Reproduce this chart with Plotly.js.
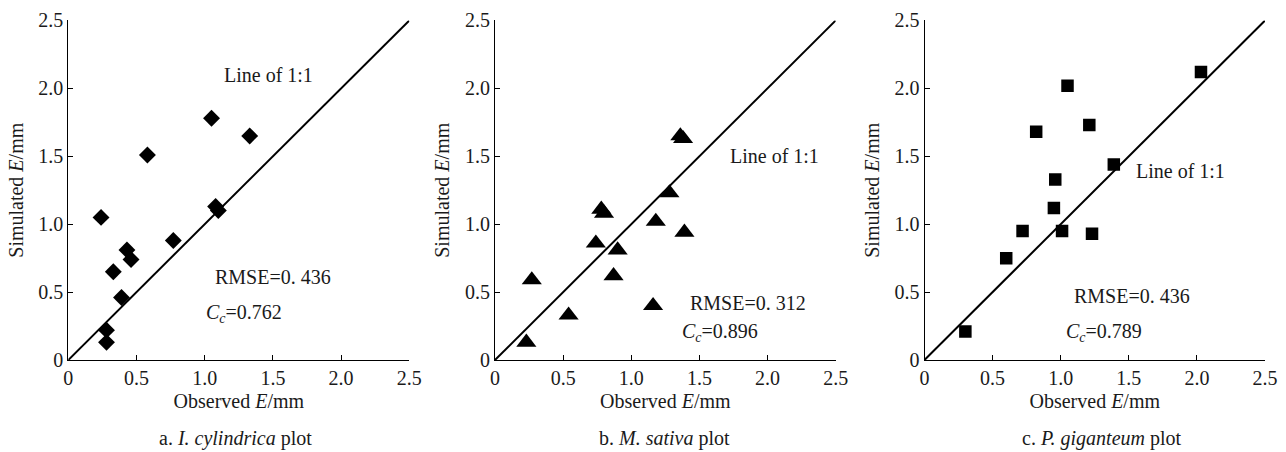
<!DOCTYPE html>
<html>
<head>
<meta charset="utf-8">
<script src="https://cdn.plot.ly/plotly-3.0.1.min.js"></script>
<style>html,body{margin:0;padding:0;background:#fff;}#chart{width:1286px;height:452px;}</style>
</head>
<body>
<div id="chart"></div>
<script>
// Panel a: I. cylindrica
var obsA = [0.24, 0.58, 1.05, 1.33, 1.08, 1.10, 0.77, 0.43, 0.46, 0.33, 0.39, 0.28, 0.28];
var simA = [1.05, 1.51, 1.78, 1.65, 1.13, 1.10, 0.88, 0.81, 0.74, 0.65, 0.46, 0.22, 0.13];
// Panel b: M. sativa
var obsB = [1.36, 1.38, 1.28, 0.78, 0.80, 1.18, 1.39, 0.74, 0.90, 0.87, 0.27, 0.54, 1.16, 0.23];
var simB = [1.65, 1.63, 1.23, 1.11, 1.08, 1.02, 0.94, 0.86, 0.81, 0.62, 0.59, 0.33, 0.40, 0.13];
// Panel c: P. giganteum
var obsC = [2.03, 1.05, 0.82, 1.21, 1.39, 0.96, 0.95, 0.72, 1.01, 1.23, 0.60, 0.30];
var simC = [2.12, 2.02, 1.68, 1.73, 1.44, 1.33, 1.12, 0.95, 0.95, 0.93, 0.75, 0.21];
// 1:1 line endpoints
var lineX = [0, 2.5];
var lineY = [0, 2.5];
// tick labels
var tickVals = [0, 0.5, 1.0, 1.5, 2.0, 2.5];
var tickText = ["0", "0.5", "1.0", "1.5", "2.0", "2.5"];
// statistics
var rmseText = ["RMSE=0. 436", "RMSE=0. 312", "RMSE=0. 436"];
var ccText = ["0.762", "0.896", "0.789"];
var captions = ["a. <i>I. cylindrica</i> plot", "b. <i>M. sativa</i> plot", "c. <i>P. giganteum</i> plot"];

var FONT = "Liberation Serif, Times New Roman, serif";
var TXT = "#1a1a1a";

function mk(obs, sim, sym, size, xa, ya) {
  return [
    {x: lineX, y: lineY, mode: "lines", line: {color: "#000", width: 2}, xaxis: xa, yaxis: ya, hoverinfo: "skip"},
    {x: obs, y: sim, mode: "markers", marker: {symbol: sym, size: size, color: "#000"}, xaxis: xa, yaxis: ya}
  ];
}

var data = [].concat(
  mk(obsA, simA, "diamond", 13, "x", "y"),
  mk(obsB, simB, "triangle-up", 17.5, "x2", "y2"),
  mk(obsC, simC, "square", 12.5, "x3", "y3")
);

var ydom = [0.20354, 0.95465];
var xdoms = [[0.05311, 0.31827], [0.38491, 0.64984], [0.71890, 0.98367]];

function xax(dom, anchor) {
  return {
    domain: dom, anchor: anchor, range: [0, 2.5], showgrid: false, zeroline: false,
    showline: true, linecolor: "#000", linewidth: 1, ticks: "inside", ticklen: 5, tickcolor: "#000",
    tickvals: tickVals, ticktext: tickText, tickfont: {family: FONT, size: 20, color: TXT},
    title: {text: "Observed <i>E</i>/mm", font: {family: FONT, size: 20, color: TXT}, standoff: 5},
    fixedrange: true
  };
}
function yax(anchor) {
  return {
    domain: ydom, anchor: anchor, range: [0, 2.5], showgrid: false, zeroline: false,
    showline: true, linecolor: "#000", linewidth: 1, ticks: "inside", ticklen: 5, tickcolor: "#000",
    tickvals: tickVals, ticktext: tickText, tickfont: {family: FONT, size: 20, color: TXT},
    title: {text: "Simulated <i>E</i>/mm", font: {family: FONT, size: 20, color: TXT}, standoff: 9},
    fixedrange: true
  };
}

var ann = [];
var lineLabelPos = [[1.47, 2.10], [2.05, 1.50], [1.88, 1.39]];
var rmsePos = [[1.50, 0.614], [1.86, 0.417], [1.52, 0.474]];
var ccPos = [[1.29, 0.344], [1.65, 0.20], [1.32, 0.204]];
var xr = ["x", "x2", "x3"], yr = ["y", "y2", "y3"];
var capX = [0.1831, 0.5171, 0.8567];
function A(o) { o.showarrow = false; o.xanchor = "center"; o.yanchor = "middle"; o.font = {family: FONT, size: 20, color: TXT}; return o; }
for (var i = 0; i < 3; i++) {
  ann.push(A({xref: xr[i], yref: yr[i], x: lineLabelPos[i][0], y: lineLabelPos[i][1], text: "Line of 1:1"}));
  ann.push(A({xref: xr[i], yref: yr[i], x: rmsePos[i][0], y: rmsePos[i][1], text: rmseText[i]}));
  ann.push(A({xref: xr[i], yref: yr[i], x: ccPos[i][0], y: ccPos[i][1], text: "<i>C</i><sub><i>c</i></sub>=" + ccText[i]}));
  ann.push(A({xref: "paper", yref: "paper", x: capX[i], y: 0.0288, text: captions[i]}));
}

var layout = {
  width: 1286, height: 452, margin: {l: 0, r: 0, t: 0, b: 0},
  paper_bgcolor: "#fff", plot_bgcolor: "#fff", showlegend: false,
  xaxis: xax(xdoms[0], "y"), yaxis: yax("x"),
  xaxis2: xax(xdoms[1], "y2"), yaxis2: yax("x2"),
  xaxis3: xax(xdoms[2], "y3"), yaxis3: yax("x3"),
  annotations: ann
};

Plotly.newPlot("chart", data, layout, {displayModeBar: false, staticPlot: true});
</script>
</body>
</html>
